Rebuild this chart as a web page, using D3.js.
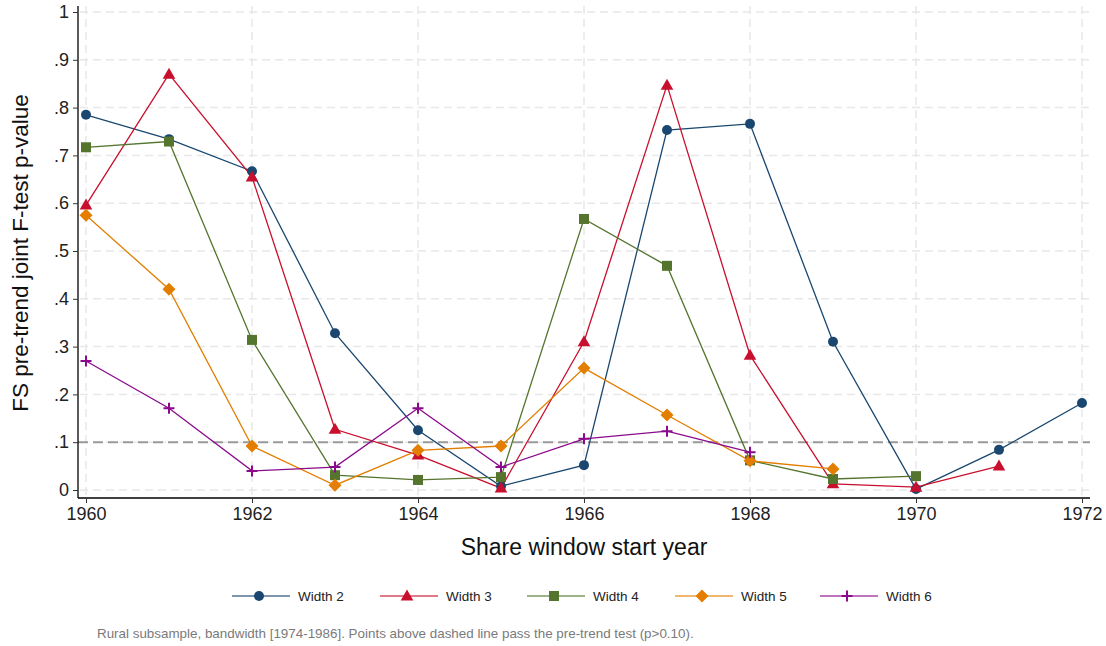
<!DOCTYPE html>
<html><head><meta charset="utf-8">
<script src="https://cdn.jsdelivr.net/npm/d3@7"></script>
<style>body{margin:0;background:#fff}svg{display:block;font-family:"Liberation Sans",Arial,sans-serif}</style>
</head><body><svg id="c" width="1106" height="646"></svg>
<script>
const years = [1960,1961,1962,1963,1964,1965,1966,1967,1968,1969,1970,1971,1972];
const width2 = [0.785,0.734,0.667,0.328,0.125,0.008,0.052,0.753,0.766,0.310,0.002,0.084,0.182];
const width3 = [0.596,0.870,0.655,0.127,0.073,0.004,0.310,0.847,0.282,0.013,0.006,0.050];
const width4 = [0.717,0.729,0.314,0.031,0.021,0.027,0.567,0.469,0.062,0.023,0.029];
const width5 = [0.575,0.420,0.092,0.010,0.083,0.092,0.255,0.157,0.061,0.044];
const width6 = [0.270,0.171,0.040,0.048,0.171,0.048,0.107,0.123,0.079];
const seriesNames = ["Width 2","Width 3","Width 4","Width 5","Width 6"];
const seriesValues = [width2,width3,width4,width5,width6];
const yTicks = [0,0.1,0.2,0.3,0.4,0.5,0.6,0.7,0.8,0.9,1];
const yTickLabels = ["0",".1",".2",".3",".4",".5",".6",".7",".8",".9","1"];
const xTicks = [1960,1962,1964,1966,1968,1970,1972];
const threshold = 0.1;
const noteText = "Rural subsample, bandwidth [1974-1986]. Points above dashed line pass the pre-trend test (p>0.10).";

const colors = ["#1a476f","#c8102e","#55752f","#e37e00","#8b0a8b"];

const svg = d3.select("#c");
const x = d3.scaleLinear().domain([1960,1972]).range([86,1082]);
const y = d3.scaleLinear().domain([0,1]).range([490,12]);
const L = 78, B = 498, T = 6, R = 1090;

// grid
const g = svg.append("g");
g.selectAll(".hg").data(yTicks).join("line")
  .attr("x1",L+2).attr("x2",R).attr("y1",d=>y(d)).attr("y2",d=>y(d))
  .attr("stroke","#e8e8e8").attr("stroke-width",1.5).attr("stroke-dasharray","8,5");
g.selectAll(".vg").data(xTicks).join("line")
  .attr("x1",d=>x(d)).attr("x2",d=>x(d)).attr("y1",T).attr("y2",B)
  .attr("stroke","#e8e8e8").attr("stroke-width",1.5).attr("stroke-dasharray","8,5");

// threshold line
svg.append("line").attr("x1",L).attr("x2",R).attr("y1",y(threshold)).attr("y2",y(threshold))
  .attr("stroke","#9a9a9a").attr("stroke-width",2).attr("stroke-dasharray","10,5");

// axes
const yAxis = d3.axisLeft(y).tickValues(yTicks).tickFormat((d,i)=>yTickLabels[i]).tickSize(5).tickPadding(4);
const ya = svg.append("g").attr("transform",`translate(${L},0)`).call(yAxis);
ya.select(".domain").attr("d",`M0,${T}V${B}`).attr("stroke","#000").attr("stroke-width",1.3);
ya.selectAll("text").attr("font-size",18).attr("fill","#222").attr("font-family","Liberation Sans, Arial, sans-serif");
ya.selectAll(".tick line").attr("stroke","#333");

const xAxis = d3.axisBottom(x).tickValues(xTicks).tickFormat(d3.format("d")).tickSize(5).tickPadding(4);
const xa = svg.append("g").attr("transform",`translate(0,${B})`).call(xAxis);
xa.select(".domain").attr("d",`M${L},0H${R}`).attr("stroke","#000").attr("stroke-width",1.3);
xa.selectAll("text").attr("font-size",18).attr("fill","#222").attr("font-family","Liberation Sans, Arial, sans-serif");
xa.selectAll(".tick line").attr("stroke","#333");

// titles
svg.append("text").attr("x",584).attr("y",555).attr("text-anchor","middle")
  .attr("font-size",23).attr("fill","#111").text("Share window start year");
svg.append("text").attr("transform","translate(28,253) rotate(-90)").attr("text-anchor","middle")
  .attr("font-size",22.5).attr("fill","#111").text("FS pre-trend joint F-test p-value");

// series
const line = d3.line().x((d,i)=>x(years[i])).y(d=>y(d));
function drawMarker(sel, i){
  const c = colors[i];
  if(i===0) sel.append("circle").attr("r",5).attr("fill",c);
  else if(i===1) sel.append("path").attr("d","M0,-6.5L6.3,4.5L-6.3,4.5Z").attr("fill",c);
  else if(i===2) sel.append("rect").attr("x",-5).attr("y",-5).attr("width",10).attr("height",10).attr("fill",c);
  else if(i===3) sel.append("path").attr("d","M0,-6.5L6.5,0L0,6.5L-6.5,0Z").attr("fill",c);
  else sel.append("path").attr("d","M-5.5,0H5.5M0,-5.5V5.5").attr("stroke",c).attr("stroke-width",2).attr("fill","none");
}
seriesValues.forEach((vals,i)=>{
  svg.append("path").datum(vals).attr("d",line).attr("fill","none").attr("stroke",colors[i]).attr("stroke-width",1.3);
});
seriesValues.forEach((vals,i)=>{
  const gm = svg.append("g");
  vals.forEach((v,j)=>{
    const m = gm.append("g").attr("transform",`translate(${x(years[j])},${y(v)})`);
    drawMarker(m,i);
  });
});

// legend
const legX = [232,380,527,675,820];
seriesNames.forEach((n,i)=>{
  const lg = svg.append("g").attr("transform",`translate(${legX[i]},596)`);
  lg.append("line").attr("x1",0).attr("x2",58).attr("stroke",colors[i]).attr("stroke-width",1.6).attr("stroke-opacity",0.75);
  const m = lg.append("g").attr("transform","translate(27,0)");
  drawMarker(m,i);
  lg.append("text").attr("x",66).attr("y",5).attr("font-size",13.5).attr("fill","#222").text(n);
});

// note
svg.append("text").attr("x",97).attr("y",638).attr("font-size",13.4).attr("fill","#7a7a7a").text(noteText);
</script></body></html>
